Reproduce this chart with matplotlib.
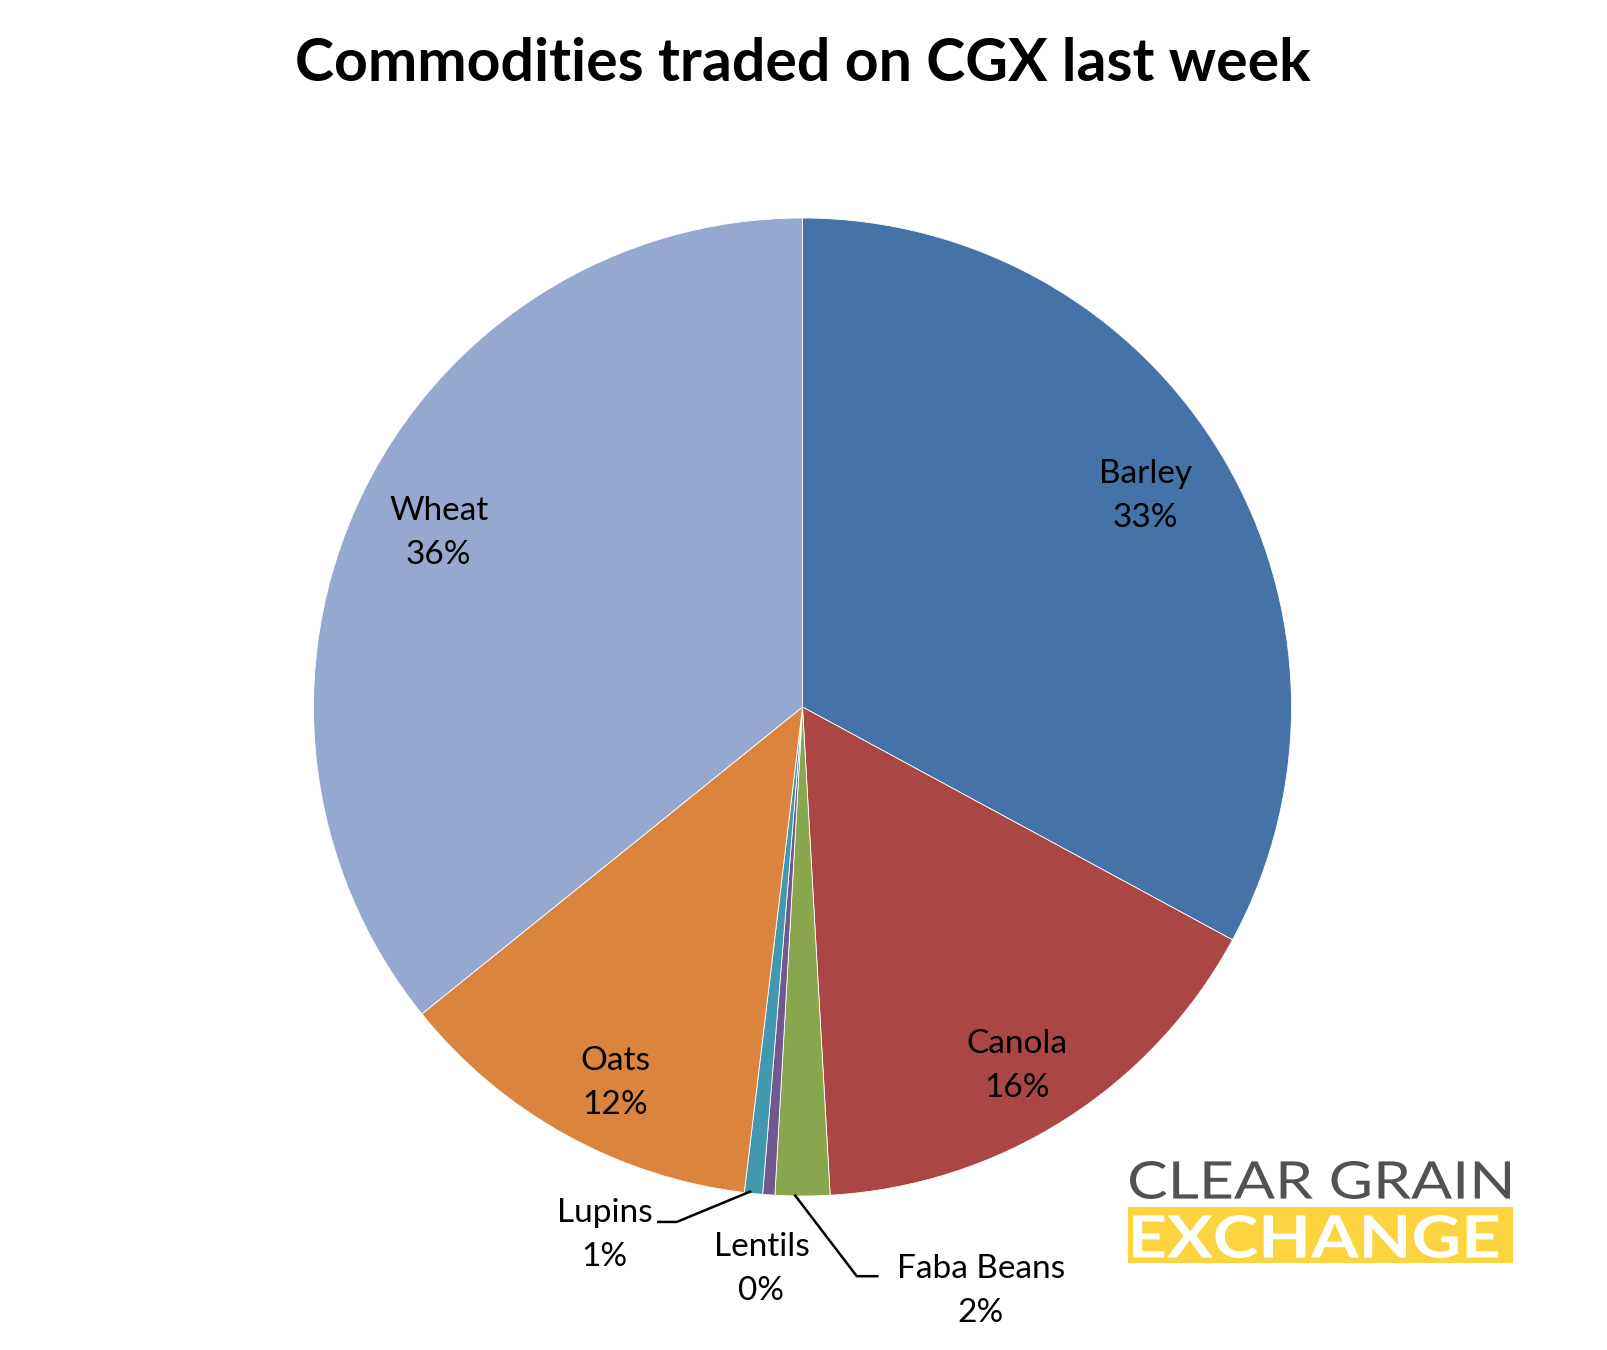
import matplotlib
matplotlib.use("Agg")
import matplotlib.pyplot as plt
from matplotlib.patches import Rectangle, PathPatch
from matplotlib.textpath import TextPath
from matplotlib.font_manager import FontProperties
from matplotlib.path import Path

# ---- data ----
categories = ["Barley", "Canola", "Faba Beans", "Lentils", "Lupins", "Oats", "Wheat"]
shares = [32.9, 16.2, 1.8, 0.4, 0.6, 12.3, 35.8]
pct_labels = ["33%", "16%", "2%", "0%", "1%", "12%", "36%"]
colors = ["#4572A7", "#AA4643", "#89A54E", "#71588F", "#4198AF", "#DB843D", "#95A9D0"]
title = "Commodities traded on CGX last week"
logo_top = "CLEAR GRAIN"
logo_bottom = "EXCHANGE"

# ---- layout ----
label_pos = {
    "Barley": (0.701, 0.431),
    "Canola": (0.438, -0.735),
    "Faba Beans": (0.365, -1.194),
    "Lentils": (-0.084, -1.150),
    "Lupins": (-0.405, -1.079),
    "Oats": (-0.383, -0.768),
    "Wheat": (-0.744, 0.355),
}
leaders = {
    "Lupins": [(-0.107, -0.991), (-0.257, -1.053), (-0.295, -1.053)],
    "Faba Beans": [(-0.015, -0.999), (0.111, -1.164), (0.153, -1.164)],
}

W, H = 1607, 1350
plt.rcParams["font.family"] = ["Lato", "DejaVu Sans"]
fig = plt.figure(figsize=(W / 100, H / 100), dpi=100)
fig.patch.set_facecolor("white")

cx, cy, r = 802.5, 707.0, 489.0
ax = fig.add_axes([(cx - r) / W, 1 - (cy + r) / H, 2 * r / W, 2 * r / H])
ax.pie(shares, colors=colors, startangle=90, counterclock=False, radius=1,
       wedgeprops=dict(edgecolor="white", linewidth=0.6))
ax.set_xlim(-1, 1)
ax.set_ylim(-1, 1)
ax.set_aspect("equal")
ax.axis("off")

for name, pct in zip(categories, pct_labels):
    x, y = label_pos[name]
    ax.text(x, y, f"{name}\n{pct}", ha="center", va="center", fontsize=24,
            linespacing=1.58, color="black", clip_on=False)

for name, pts in leaders.items():
    xs = [p[0] for p in pts]
    ys = [p[1] for p in pts]
    ax.plot(xs, ys, color="black", lw=1.8, clip_on=False)

fig.text(cx / W, 1 - 64 / H, title, ha="center", va="center",
         fontsize=42.5, fontweight="bold", color="black")


# ---- logo ----
def fitted_text(s, box, weight, color):
    """Draw text s stretched to fill pixel box (left, top, right, bottom)."""
    l, t, rr, b = box
    tp = TextPath((0, 0), s, size=100, prop=FontProperties(family="Lato", weight=weight))
    ext = tp.get_extents()
    verts = tp.vertices.copy()
    verts[:, 0] = (verts[:, 0] - ext.x0) / ext.width * (rr - l) + l
    verts[:, 1] = (verts[:, 1] - ext.y0) / ext.height * (b - t)
    verts[:, 1] = H - b + verts[:, 1]
    verts[:, 0] /= W
    verts[:, 1] /= H
    p = Path(verts, tp.codes)
    fig.patches.append(PathPatch(p, transform=fig.transFigure, facecolor=color,
                                 edgecolor="none"))


fitted_text(logo_top, (1130, 1161, 1510, 1199), "normal", "#525252")
band_l, band_r, band_t, band_b = 1128, 1513, 1207, 1263
fig.patches.append(Rectangle((band_l / W, 1 - band_b / H), (band_r - band_l) / W,
                             (band_b - band_t) / H, transform=fig.transFigure,
                             facecolor="#FCD440", edgecolor="none"))
fitted_text(logo_bottom, (1133, 1215, 1498, 1258), "bold", "white")

fig.savefig("out.png", dpi=100, facecolor="white")
